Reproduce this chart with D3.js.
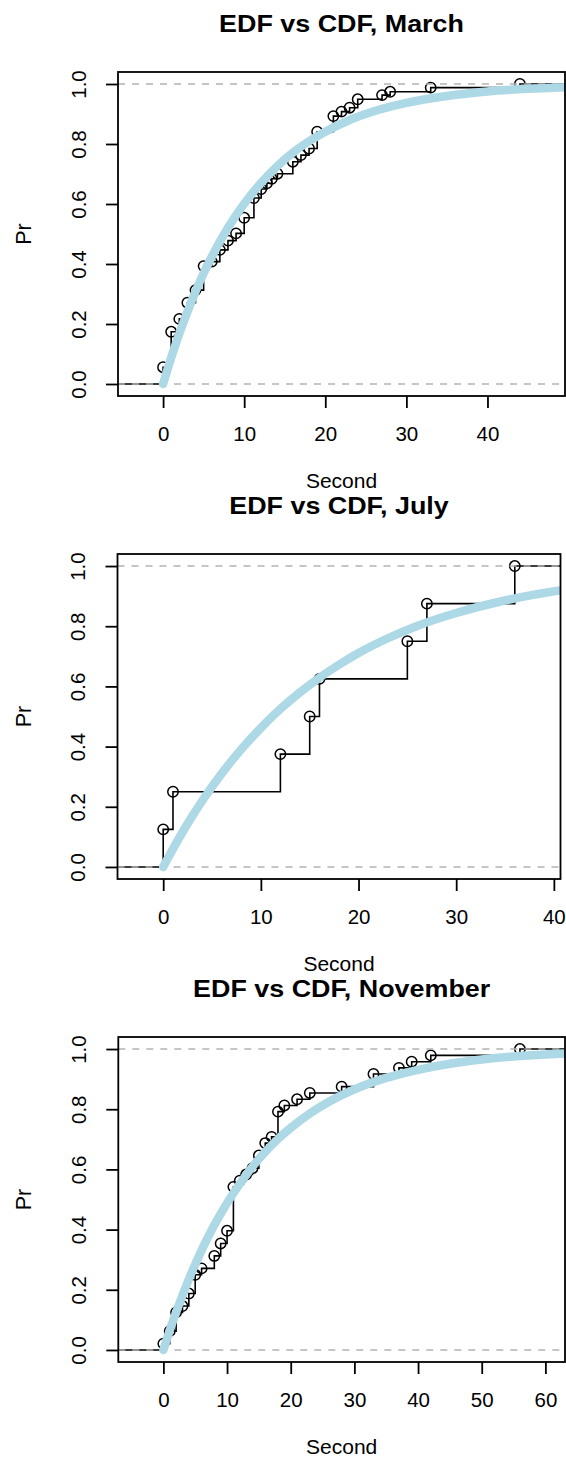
<!DOCTYPE html>
<html>
<head>
<meta charset="utf-8">
<script src="https://cdn.jsdelivr.net/npm/d3@7"></script>
<style>
  body { margin: 0; background: #fff; }
  svg { display: block; font-family: "Liberation Sans", Arial, Helvetica, sans-serif; }
</style>
</head>
<body>
<svg id="chart" width="566" height="1461"></svg>
<script>
// ECDF knots (Second) and heights (Pr)
const marchSecond = [0, 1, 2, 3, 4, 5, 6, 7, 8, 9, 10, 11.2, 12.1, 12.8, 13.4, 14.1, 16, 17, 18, 19, 21, 22, 23, 24, 27, 28, 33, 44];
const marchPr = [0.056, 0.174, 0.217, 0.271, 0.313, 0.393, 0.408, 0.447, 0.478, 0.502, 0.554, 0.62, 0.65, 0.669, 0.684, 0.701, 0.741, 0.763, 0.785, 0.841, 0.893, 0.908, 0.921, 0.949, 0.963, 0.974, 0.988, 1];

const julySecond = [0, 1, 12, 15, 16, 25, 27, 36];
const julyPr = [0.125, 0.25, 0.375, 0.5, 0.625, 0.75, 0.875, 1];

const novemberSecond = [0, 1, 2, 3, 4, 5, 6, 8, 9, 10, 11, 12, 13, 14, 15, 16, 17, 18, 19, 21, 23, 28, 33, 37, 39, 42, 56];
const novemberPr = [0.021, 0.0625, 0.125, 0.146, 0.1875, 0.25, 0.271, 0.3125, 0.354, 0.396, 0.542, 0.5625, 0.583, 0.604, 0.646, 0.6875, 0.708, 0.792, 0.8125, 0.833, 0.854, 0.875, 0.917, 0.9375, 0.958, 0.979, 1];

// fitted CDF curves
const marchCdfSecond = [0, 1, 2, 3, 4, 5, 6, 8, 10, 12, 14, 16, 18, 20, 23, 26, 30, 35, 40, 45, 50];
const marchCdfPr = [0, 0.088, 0.168, 0.241, 0.308, 0.369, 0.424, 0.521, 0.601, 0.668, 0.724, 0.771, 0.809, 0.841, 0.88, 0.909, 0.937, 0.96, 0.975, 0.984, 0.99];

const julyCdfSecond = [0, 1, 2, 3, 4, 6, 8, 10, 12, 14, 16, 18, 20, 23, 26, 30, 34, 38, 41];
const julyCdfPr = [0, 0.06, 0.117, 0.17, 0.22, 0.311, 0.391, 0.462, 0.525, 0.58, 0.629, 0.672, 0.711, 0.76, 0.801, 0.844, 0.878, 0.905, 0.921];

const novemberCdfSecond = [0, 1, 2, 3, 4, 6, 8, 10, 12, 14, 16, 18, 20, 23, 26, 30, 35, 40, 45, 50, 55, 60, 64];
const novemberCdfPr = [0, 0.065, 0.125, 0.182, 0.235, 0.331, 0.415, 0.488, 0.552, 0.609, 0.658, 0.701, 0.738, 0.786, 0.825, 0.866, 0.904, 0.931, 0.951, 0.965, 0.975, 0.982, 0.986];

const yTicks = [0, 0.2, 0.4, 0.6, 0.8, 1];
const marchXTicks = [0, 10, 20, 30, 40];
const julyXTicks = [0, 10, 20, 30, 40];
const novemberXTicks = [0, 10, 20, 30, 40, 50, 60];

const titles = ["EDF vs CDF, March", "EDF vs CDF, July", "EDF vs CDF, November"];

const svg = d3.select("#chart");

function drawPanel(o) {
  const bottom = o.top + o.height;
  const x = d3.scaleLinear().domain(o.xDomain).range([o.left, o.right]);
  const y = d3.scaleLinear().domain([-0.04, 1.04]).range([bottom, o.top]);
  const g = svg.append("g");

  g.append("clipPath").attr("id", o.id)
    .append("rect")
    .attr("x", o.left).attr("y", o.top)
    .attr("width", o.right - o.left).attr("height", o.height);

  const plot = g.append("g").attr("clip-path", `url(#${o.id})`);

  // step function
  const steps = [[o.xDomain[0], 0]].concat(o.second.map((s, i) => [s, o.pr[i]]), [[o.xDomain[1], 1]]);
  plot.append("path")
    .datum(steps)
    .attr("d", d3.line().x((d) => x(d[0])).y((d) => y(d[1])).curve(d3.curveStepAfter))
    .attr("fill", "none")
    .attr("stroke", "#000")
    .attr("stroke-width", 1.6);

  plot.selectAll("circle")
    .data(o.second)
    .join("circle")
    .attr("cx", (d) => x(d))
    .attr("cy", (d, i) => y(o.pr[i]))
    .attr("r", 5.2)
    .attr("fill", "none")
    .attr("stroke", "#000")
    .attr("stroke-width", 1.5);

  plot.selectAll("line.ref")
    .data([0, 1])
    .join("line")
    .attr("class", "ref")
    .attr("x1", o.left).attr("x2", o.right)
    .attr("y1", (d) => y(d)).attr("y2", (d) => y(d))
    .attr("stroke", "#b3b3b3")
    .attr("stroke-width", 1.5)
    .attr("stroke-dasharray", "7,7");

  plot.append("path")
    .datum(o.cdfSecond.map((s, i) => [s, o.cdfPr[i]]))
    .attr("d", d3.line().x((d) => x(d[0])).y((d) => y(d[1])).curve(d3.curveMonotoneX))
    .attr("fill", "none")
    .attr("stroke", "#add8e6")
    .attr("stroke-width", 8.5)
    .attr("stroke-linecap", "round");

  g.append("rect")
    .attr("x", o.left).attr("y", o.top)
    .attr("width", o.right - o.left).attr("height", o.height)
    .attr("fill", "none")
    .attr("stroke", "#000")
    .attr("stroke-width", 1.8);

  const xAxis = g.append("g")
    .attr("transform", `translate(0,${bottom})`)
    .call(d3.axisBottom(x).tickValues(o.xTicks).tickFormat(d3.format("d")).tickSize(12));
  xAxis.select(".domain").remove();
  xAxis.selectAll("line").attr("stroke-width", 1.8);
  xAxis.selectAll("text")
    .attr("y", 38).attr("dy", "0.36em")
    .attr("font-size", 20.5).attr("font-family", null).attr("fill", "#000");

  const yAxis = g.append("g")
    .attr("transform", `translate(${o.left},0)`)
    .call(d3.axisLeft(y).tickValues(yTicks).tickFormat(d3.format(".1f")).tickSize(12));
  yAxis.select(".domain").remove();
  yAxis.selectAll("line").attr("stroke-width", 1.8);
  yAxis.selectAll("text")
    .attr("x", null).attr("dy", null)
    .attr("text-anchor", "middle")
    .attr("dominant-baseline", "central")
    .attr("transform", "translate(-40,0) rotate(-90)")
    .attr("font-size", 20.5).attr("font-family", null).attr("fill", "#000");

  const cx = (o.left + o.right) / 2;
  g.append("text")
    .attr("transform", `translate(${cx},${o.top - 40}) scale(1.12,1)`)
    .attr("text-anchor", "middle")
    .attr("font-size", 24).attr("font-weight", "bold")
    .text(o.title);

  g.append("text")
    .attr("x", cx).attr("y", bottom + 84)
    .attr("dy", "0.36em")
    .attr("text-anchor", "middle")
    .attr("font-size", 21)
    .text("Second");

  g.append("text")
    .attr("transform", `translate(${o.left - 94},${(o.top + bottom) / 2}) rotate(-90)`)
    .attr("dominant-baseline", "central")
    .attr("text-anchor", "middle")
    .attr("font-size", 21.5)
    .text("Pr");
}

drawPanel({
  id: "clip-march", top: 72, height: 324, left: 118, right: 565,
  xDomain: [-5.56, 49.56], xTicks: marchXTicks,
  second: marchSecond, pr: marchPr, cdfSecond: marchCdfSecond, cdfPr: marchCdfPr,
  title: titles[0]
});

drawPanel({
  id: "clip-july", top: 554, height: 325, left: 117.5, right: 560.5,
  xDomain: [-4.68, 40.68], xTicks: julyXTicks,
  second: julySecond, pr: julyPr, cdfSecond: julyCdfSecond, cdfPr: julyCdfPr,
  title: titles[1]
});

drawPanel({
  id: "clip-november", top: 1037, height: 325, left: 118.3, right: 565,
  xDomain: [-7.08, 63.08], xTicks: novemberXTicks,
  second: novemberSecond, pr: novemberPr, cdfSecond: novemberCdfSecond, cdfPr: novemberCdfPr,
  title: titles[2]
});
</script>
</body>
</html>
